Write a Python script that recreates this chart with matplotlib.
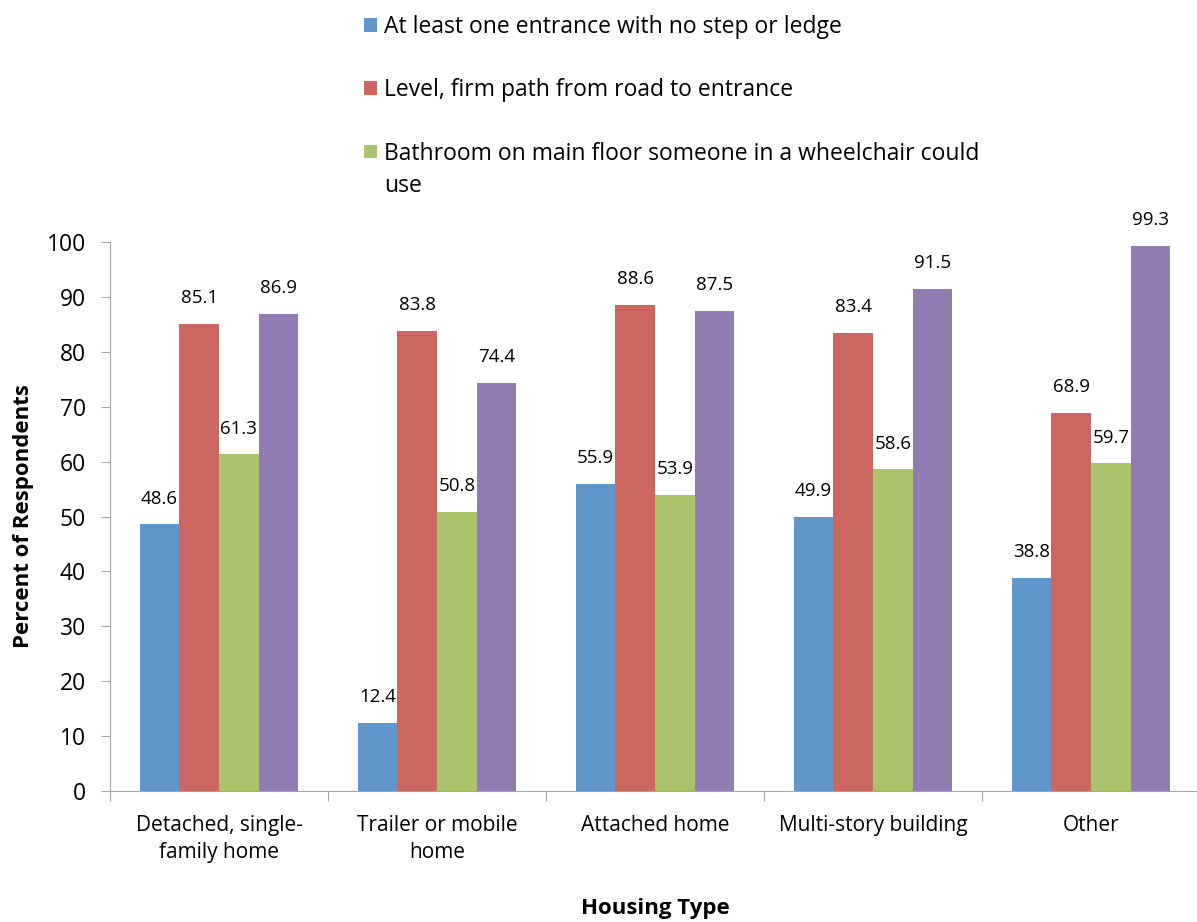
import numpy as np
import matplotlib
matplotlib.use("Agg")
from matplotlib import pyplot as plt

plt.rcParams["font.family"] = ["Open Sans", "DejaVu Sans"]

# data
housing = ["Detached, single-\nfamily home", "Trailer or mobile\nhome", "Attached home",
           "Multi-story building", "Other"]
no_step = [48.6, 12.4, 55.9, 49.9, 38.8]
firm_path = [85.1, 83.8, 88.6, 83.4, 68.9]
bathroom = [61.3, 50.8, 53.9, 58.6, 59.7]
fourth = [86.9, 74.4, 87.5, 91.5, 99.3]

labels = ["At least one entrance with no step or ledge",
          "Level, firm path from road to entrance",
          "Bathroom on main floor someone in a wheelchair could"]
label_wrap = "use"
colors = ["#6096c9", "#cc6661", "#aac46b", "#927bb2"]

W, H = 1197, 922
fig = plt.figure(figsize=(W / 100, H / 100), dpi=100)
ax = fig.add_axes([110 / W, 1 - 791 / H, 1090 / W, 549 / H])

x = np.arange(len(housing))
w = 0.182
series = [no_step, firm_path, bathroom, fourth]
bars = []
for i, s in enumerate(series):
    b = ax.bar(x + (i - 1.5) * w, s, w, color=colors[i], linewidth=0)
    bars.append(b)
    for xi, v in zip(x + (i - 1.5) * w, s):
        ax.annotate(f"{v:.1f}", (xi, v), xytext=(0, 12), textcoords="offset points",
                    ha="center", va="bottom", fontsize=13.5)

ax.set_xlim(-0.5, 4.5)
ax.set_ylim(0, 100)
ax.set_yticks(range(0, 101, 10))
ax.tick_params(axis="y", labelsize=16.5, length=6.5, color="#a6a6a6", pad=11)
ax.set_xticks(np.arange(-0.5, 4.5, 1))
ax.set_xticklabels([])
ax.tick_params(axis="x", which="major", length=7, color="#a6a6a6")
ax.set_xticks(x, minor=True)
ax.set_xticklabels(housing, minor=True, fontsize=15, linespacing=1.4)
ax.tick_params(axis="x", which="minor", length=0, pad=17)
for sp in ["top", "right"]:
    ax.spines[sp].set_visible(False)
for sp in ["left", "bottom"]:
    ax.spines[sp].set_color("#a6a6a6")

ax.set_ylabel("Percent of Respondents", fontsize=16, fontweight="bold", labelpad=9)
ax.set_xlabel("Housing Type", fontsize=16, fontweight="bold", labelpad=25)

leg = fig.legend([b[0] for b in bars[:3]], labels, loc="upper left",
                 bbox_to_anchor=(355 / W, 1 - 6 / H), frameon=False,
                 fontsize=16.5, handlelength=0.55, handleheight=0.55, handletextpad=0.3,
                 labelspacing=1.71, borderaxespad=0)

# second line of the third legend label
fig.canvas.draw()
bb = leg.get_texts()[2].get_window_extent()
fig.text(bb.x0 / W, (bb.y0 - 32 + bb.height / 2) / H, label_wrap,
         fontsize=16.5, ha="left", va="center")

fig.savefig("out.png", dpi=100)
